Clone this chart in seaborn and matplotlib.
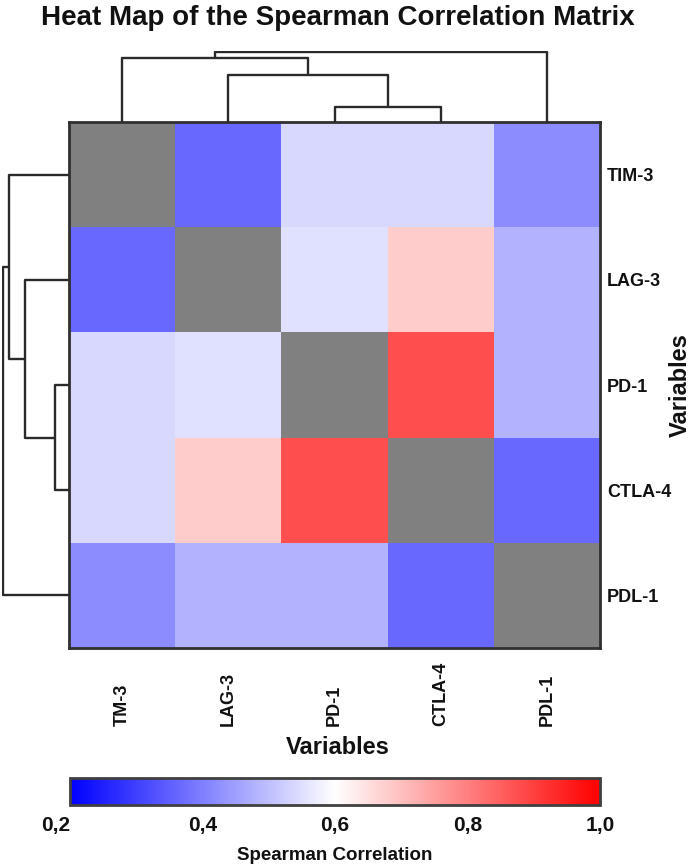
import numpy as np
import pandas as pd
import matplotlib
matplotlib.use("Agg")
import matplotlib.pyplot as plt
import seaborn as sns

# ---- data ----
row_labels = ["TIM-3", "LAG-3", "PD-1", "CTLA-4", "PDL-1"]
col_labels = ["TM-3", "LAG-3", "PD-1", "CTLA-4", "PDL-1"]
nan = np.nan
row_tim3 = [nan, 0.365, 0.54, 0.54, 0.42]
row_lag3 = [0.365, nan, 0.55, 0.68, 0.48]
row_pd1 = [0.54, 0.55, nan, 0.875, 0.48]
row_ctla4 = [0.54, 0.68, 0.875, nan, 0.365]
row_pdl1 = [0.42, 0.48, 0.48, 0.365, nan]
# linkage (leaf indices in display order, new clusters numbered from 5)
link_a = [2, 1, 0, 7]
link_b = [3, 5, 6, 4]
link_h = [0.22, 0.67, 0.92, 1.0]
cbar_ticks = [0.2, 0.4, 0.6, 0.8, 1.0]
cbar_ticklabels = ["0,2", "0,4", "0,6", "0,8", "1,0"]

sns.set_theme(style="white")
plt.rcParams["font.family"] = ["Liberation Sans", "DejaVu Sans"]

W, H = 696, 867
fig = plt.figure(figsize=(W / 100, H / 100), dpi=100)


def box(x0, y0, x1, y1):
    return [x0 / W, 1 - y1 / H, (x1 - x0) / W, (y1 - y0) / H]


ax = fig.add_axes(box(69, 122, 600, 648))
ax_top = fig.add_axes(box(69, 51, 600, 122))
ax_left = fig.add_axes(box(2, 122, 69, 648))
cax = fig.add_axes(box(70, 778, 600, 805))

df = pd.DataFrame([row_tim3, row_lag3, row_pd1, row_ctla4, row_pdl1],
                  index=row_labels, columns=col_labels)

sns.heatmap(df, ax=ax, cmap="bwr", vmin=0.2, vmax=1.0, cbar_ax=cax,
            cbar_kws={"orientation": "horizontal"})
ax.set_facecolor("#808080")
for s in ax.spines.values():
    s.set_visible(True)
    s.set_color("#303030")
    s.set_linewidth(2)

ax.yaxis.tick_right()
ax.set_yticks(np.arange(len(row_labels)) + 0.5)
ax.set_yticklabels(row_labels, rotation=0, fontweight="bold", fontsize=13, color="#111")
ax.set_xticks(np.arange(len(col_labels)) + 0.5)
ax.set_xticklabels(col_labels, rotation=90, va="bottom", ha="center",
                   fontweight="bold", fontsize=13, color="#111")
ax.tick_params(axis="x", length=0, pad=56)
ax.tick_params(axis="y", length=0, pad=5)
ax.set_xlabel("")
ax.set_ylabel("")

# ---- dendrograms ----
n = len(row_labels)
pos = {i: i + 0.5 for i in range(n)}
hgt = {i: 0.0 for i in range(n)}
segs = []
for k, (a, b, h) in enumerate(zip(link_a, link_b, link_h)):
    xa, xb = pos[a], pos[b]
    segs.append(([xa, xa, xb, xb], [hgt[a], h, h, hgt[b]]))
    pos[n + k] = (xa + xb) / 2
    hgt[n + k] = h

for xs, hs in segs:
    ax_top.plot(xs, hs, color="#2a2a2a", lw=1.7, solid_capstyle="butt")
    ax_left.plot(hs, xs, color="#2a2a2a", lw=1.7, solid_capstyle="butt")
ax_top.set_xlim(0, n)
ax_top.set_ylim(0, 1.02)
ax_left.set_ylim(n, 0)
ax_left.set_xlim(1.02, 0)
for a in (ax_top, ax_left):
    a.axis("off")

# ---- colorbar ----
cb = ax.collections[0].colorbar
cb.set_ticks(cbar_ticks)
cb.set_ticklabels(cbar_ticklabels)
cax.tick_params(length=0, pad=8, labelsize=15)
labs = cax.get_xticklabels()
for t in labs:
    t.set_fontweight("bold")
    t.set_color("#111")
labs[0].set_ha("right")
cb.outline.set_edgecolor("#404040")
cb.outline.set_linewidth(2)

# ---- texts ----
fig.text(338 / W, 1 - 18 / H, "Heat Map of the Spearman Correlation Matrix",
         ha="center", va="center", fontsize=20, fontweight="bold", color="#111")
fig.text(338 / W, 1 - 747 / H, "Variables", ha="center", va="center",
         fontsize=17, fontweight="bold", color="#111")
fig.text(680 / W, 1 - 385 / H, "Variables", ha="center", va="center",
         rotation=90, fontsize=17, fontweight="bold", color="#111")
fig.text(335 / W, 1 - 855 / H, "Spearman Correlation", ha="center", va="center",
         fontsize=13.5, fontweight="bold", color="#111")

fig.savefig("out.png", dpi=100)
